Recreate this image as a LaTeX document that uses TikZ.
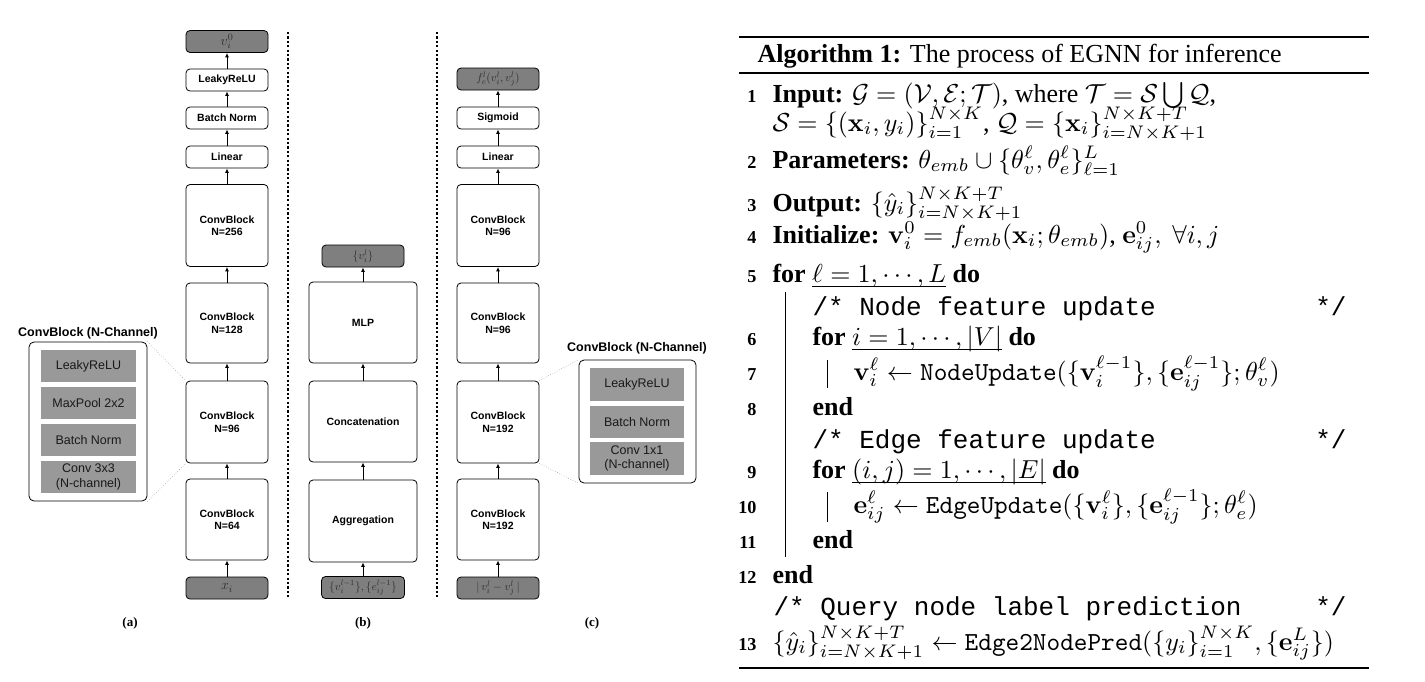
\RequirePackage{fix-cm}
\documentclass[tikz,border=0pt]{standalone}
\usepackage[no-math]{fontspec}
\setmainfont{Liberation Serif}
\newfontfamily\dsans{Liberation Sans}
\newfontfamily\cmtfont{Liberation Mono}
\usetikzlibrary{arrows.meta}
\definecolor{darkbox}{HTML}{7F7F7F}
\definecolor{panelgray}{HTML}{999999}
\definecolor{mathgray}{HTML}{303030}
\newcommand\myul[1]{\setbox0\hbox{#1}\rlap{\rule[-1.9pt]{\wd0}{0.4pt}}\box0\relax}
\begin{document}
\begin{tikzpicture}[x=1pt,y=-1pt,
  box/.style={draw, line width=0.8pt, rounded corners=4pt, minimum width=82pt, inner sep=0pt,
    font=\dsans\bfseries\fontsize{10.5}{12.5}\selectfont, align=center, fill=white},
  sbox/.style={box, minimum height=22pt},
  bbox/.style={box, minimum height=82pt},
  dbox/.style={box, fill=darkbox, minimum height=22pt, text=mathgray, font=\fontsize{11.5}{13}\selectfont},
  gbox/.style={fill=panelgray, minimum width=95pt, minimum height=32pt, inner sep=0pt, align=center,
    text=black!90, font=\dsans\fontsize{12.5}{14.5}\selectfont},
  panel/.style={draw, line width=0.8pt, rounded corners=5pt},
  ptitle/.style={font=\dsans\bfseries\fontsize{12.5}{14}\selectfont, inner sep=0pt},
  arr/.style={-{Latex[length=4.5pt,width=4pt]}, line width=1pt},
  divider/.style={line width=1.7pt, dash pattern=on 2.2pt off 2.2pt},
  zoomln/.style={draw=gray, line width=0.5pt, dotted},
  sublabel/.style={font=\bfseries\fontsize{13}{15}\selectfont, inner sep=0pt},
  alg/.style={anchor=base west, inner sep=0pt, scale=2.6, font=\fontsize{10}{12}\selectfont},
  num/.style={anchor=base east, inner sep=0pt, scale=2.6, font=\bfseries\fontsize{7}{8}\selectfont},
  cmt/.style={anchor=base west, inner sep=0pt, scale=2.6, font=\cmtfont\fontsize{10}{12}\selectfont},
  cmtend/.style={anchor=base east, inner sep=0pt, scale=2.6, font=\cmtfont\fontsize{10}{12}\selectfont},
  rule/.style={line width=#1}
]
\useasboundingbox (0,0) rectangle (1425,681);

% ---------------- (a) ----------------
\node[dbox, font=\fontsize{14}{16}\selectfont] (a0) at (227,41.5) {$v_i^0$};
\node[sbox] (a1) at (227,80) {LeakyReLU};
\node[sbox] (a2) at (227,118) {Batch Norm};
\node[sbox] (a3) at (227,157) {Linear};
\node[bbox] (a4) at (227,225.5) {ConvBlock\\N=256};
\node[box, minimum height=80pt] (a5) at (227,323) {ConvBlock\\N=128};
\node[bbox] (a6) at (227,422) {ConvBlock\\N=96};
\node[box, minimum height=81pt] (a7) at (227,519.5) {ConvBlock\\N=64};
\node[dbox, font=\fontsize{14}{16}\selectfont] (a8) at (227,588) {$x_i$};
\draw[arr] (a1.north) -- (a0.south);
\draw[arr] (a2.north) -- (a1.south);
\draw[arr] (a3.north) -- (a2.south);
\draw[arr] (a4.north) -- (a3.south);
\draw[arr] (a5.north) -- (a4.south);
\draw[arr] (a6.north) -- (a5.south);
\draw[arr] (a7.north) -- (a6.south);
\draw[arr] (a8.north) -- (a7.south);

\node[panel, minimum width=118pt, minimum height=159pt, inner sep=0pt] (pa) at (88,421.5) {};
\node[ptitle] (pat) at (88,333) {ConvBlock (N-Channel)};
\node[gbox] (pa1) at (88.5,366) {LeakyReLU};
\node[gbox] (pa2) at (88.5,403) {MaxPool 2x2};
\node[gbox] (pa3) at (88.5,440) {Batch Norm};
\node[gbox] (pa4) at (88.5,477) {Conv 3x3\\(N-channel)};
\draw[zoomln] (pa.north east) -- (a6.north west);
\draw[zoomln] (pa.south east) -- (a6.south west);
\node[sublabel] (la) at (130,623) {(a)};

% dividers
\coordinate (d1t) at (288,32);
\coordinate (d1b) at (288,597);
\coordinate (d2t) at (437,32);
\coordinate (d2b) at (437,597);
\draw[divider] (d1t) -- (d1b);
\draw[divider] (d2t) -- (d2b);

% ---------------- (b) ----------------
\node[dbox] (b0) at (363,256) {$\{v_i^l\}$};
\node[box, minimum width=108pt, minimum height=81pt] (b1) at (363,322.5) {MLP};
\node[box, minimum width=108pt, minimum height=81pt] (b2) at (363,421.5) {Concatenation};
\node[box, minimum width=108pt, minimum height=82pt] (b3) at (363,521) {Aggregation};
\node[dbox, minimum width=83pt] (b4) at (363,587.5) {$\{v_i^{l-1}\},\{e_{ij}^{l-1}\}$};
\draw[arr] (b1.north) -- (b0.south);
\draw[arr] (b2.north) -- (b1.south);
\draw[arr] (b3.north) -- (b2.south);
\draw[arr] (b4.north) -- (b3.south);
\node[sublabel] (lb) at (363,623) {(b)};

% ---------------- (c) ----------------
\node[dbox] (c0) at (498,79) {$f_e^l(v_i^l,v_j^l)$};
\node[sbox] (c1) at (498,118) {Sigmoid};
\node[sbox] (c2) at (498,157) {Linear};
\node[bbox] (c3) at (498,225.5) {ConvBlock\\N=96};
\node[box, minimum height=80pt] (c4) at (498,323) {ConvBlock\\N=96};
\node[bbox] (c5) at (498,422) {ConvBlock\\N=192};
\node[box, minimum height=81pt] (c6) at (498,519.5) {ConvBlock\\N=192};
\node[dbox] (c7) at (498,588) {$|\,v_i^l-v_j^l\,|$};
\draw[arr] (c1.north) -- (c0.south);
\draw[arr] (c2.north) -- (c1.south);
\draw[arr] (c3.north) -- (c2.south);
\draw[arr] (c4.north) -- (c3.south);
\draw[arr] (c5.north) -- (c4.south);
\draw[arr] (c6.north) -- (c5.south);
\draw[arr] (c7.north) -- (c6.south);

\node[panel, minimum width=117pt, minimum height=123pt, inner sep=0pt] (pc) at (637.5,421.5) {};
\node[ptitle] (pct) at (637,348) {ConvBlock (N-Channel)};
\node[gbox, minimum width=94pt, minimum height=33pt] (pc1) at (637,384.5) {LeakyReLU};
\node[gbox, minimum width=94pt] (pc2) at (637,422) {Batch Norm};
\node[gbox, minimum width=94pt, minimum height=33pt] (pc3) at (637,458.5) {Conv 1x1\\(N-channel)};
\draw[zoomln] (c5.north east) -- (pc.north west);
\draw[zoomln] (c5.south east) -- (pc.south west);
\node[sublabel] (lc) at (592,623) {(c)};

% ---------------- Algorithm ----------------
\coordinate (r1l) at (739,37);   \coordinate (r1r) at (1369,37);
\coordinate (r2l) at (739,73);   \coordinate (r2r) at (1369,73);
\coordinate (r3l) at (739,668);  \coordinate (r3r) at (1369,668);
\draw[rule=1.8pt] (r1l) -- (r1r);
\draw[rule=1.1pt] (r2l) -- (r2r);
\draw[rule=1.8pt] (r3l) -- (r3r);

\node[alg] (title) at (757,62) {\textbf{Algorithm 1:} The process of EGNN for inference};

\node[num] (n1) at (757,102) {1};
\node[alg] (t1) at (772,102) {\textbf{Input:} $\mathcal{G}=(\mathcal{V},\mathcal{E};\mathcal{T})$, where $\mathcal{T}=\mathcal{S}\bigcup\mathcal{Q}$,};
\node[alg] (t1b) at (772,131) {$\mathcal{S}=\{(\mathbf{x}_i,y_i)\}_{i=1}^{N\times K}$, $\mathcal{Q}=\{\mathbf{x}_i\}_{i=N\times K+1}^{N\times K+T}$};
\node[num] (n2) at (757,168) {2};
\node[alg] (t2) at (772,168) {\textbf{Parameters:} $\theta_{emb}\cup\{\theta_v^\ell,\theta_e^\ell\}_{\ell=1}^{L}$};
\node[num] (n3) at (757,211) {3};
\node[alg] (t3) at (772,211) {\textbf{Output:} $\{\hat{y}_i\}_{i=N\times K+1}^{N\times K+T}$};
\node[num] (n4) at (757,243) {4};
\node[alg] (t4) at (772,243) {\textbf{Initialize:} $\mathbf{v}_i^0=f_{emb}(\mathbf{x}_i;\theta_{emb})$, $\mathbf{e}_{ij}^0,\ \forall i,j$};
\node[num] (n5) at (757,282) {5};
\node[alg] (t5) at (772,282) {\textbf{for} \myul{$\ell=1,\cdots,L$} \textbf{do}};
\node[cmt] (k1) at (812,315) {/* Node feature update};
\node[cmtend] (k1e) at (1347,315) {*/};
\node[num] (n6) at (757,345) {6};
\node[alg] (t6) at (812,345) {\textbf{for} \myul{$i=1,\cdots,|V|$} \textbf{do}};
\node[num] (n7) at (757,380) {7};
\node[alg] (t7) at (853,380) {$\mathbf{v}_i^\ell\leftarrow\texttt{NodeUpdate}(\{\mathbf{v}_i^{\ell-1}\},\{\mathbf{e}_{ij}^{\ell-1}\};\theta_v^\ell)$};
\node[num] (n8) at (757,415) {8};
\node[alg] (t8) at (812,415) {\textbf{end}};
\node[cmt] (k2) at (812,448) {/* Edge feature update};
\node[cmtend] (k2e) at (1347,448) {*/};
\node[num] (n9) at (757,478) {9};
\node[alg] (t9) at (812,478) {\textbf{for} \myul{$(i,j)=1,\cdots,|E|$} \textbf{do}};
\node[num] (n10) at (757,513) {10};
\node[alg] (t10) at (853,513) {$\mathbf{e}_{ij}^\ell\leftarrow\texttt{EdgeUpdate}(\{\mathbf{v}_i^\ell\},\{\mathbf{e}_{ij}^{\ell-1}\};\theta_e^\ell)$};
\node[num] (n11) at (757,548) {11};
\node[alg] (t11) at (812,548) {\textbf{end}};
\node[num] (n12) at (757,583) {12};
\node[alg] (t12) at (772,583) {\textbf{end}};
\node[cmt] (k3) at (773,615) {/* Query node label prediction};
\node[cmtend] (k3e) at (1347,615) {*/};
\node[num] (n13) at (757,650) {13};
\node[alg] (t13) at (772,650) {$\{\hat{y}_i\}_{i=N\times K+1}^{N\times K+T}\leftarrow\texttt{Edge2NodePred}(\{y_i\}_{i=1}^{N\times K},\{\mathbf{e}_{ij}^{L}\})$};

% block bars
\coordinate (v1t) at (785,292); \coordinate (v1b) at (785,557);
\coordinate (v2t) at (827,360); \coordinate (v2b) at (827,388);
\coordinate (v3t) at (827,492); \coordinate (v3b) at (827,522);
\draw[line width=1pt] (v1t) -- (v1b);
\draw[line width=1pt] (v2t) -- (v2b);
\draw[line width=1pt] (v3t) -- (v3b);
\end{tikzpicture}
\end{document}
